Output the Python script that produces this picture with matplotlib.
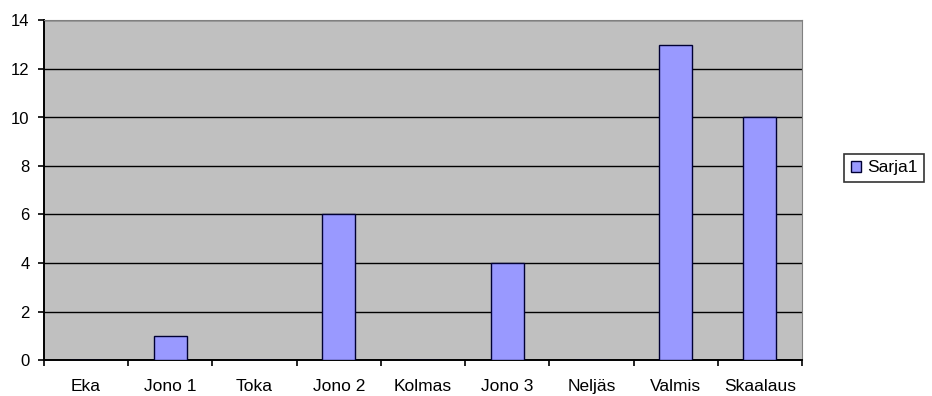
import numpy as np
import matplotlib.pyplot as plt
from matplotlib.patches import Patch

plt.rcParams['font.family'] = ['Liberation Sans', 'DejaVu Sans']

categories = ['Eka', 'Jono 1', 'Toka', 'Jono 2', 'Kolmas', 'Jono 3', 'Neljäs', 'Valmis', 'Skaalaus']
values = [0, 1, 0, 6, 0, 4, 0, 13, 10]
series_name = 'Sarja1'

fig = plt.figure(figsize=(9.32, 3.96), dpi=100)
ax = fig.add_axes([44 / 932, 36 / 396, 758 / 932, 339.5 / 396])
ax.set_facecolor('#C0C0C0')

x = np.arange(len(categories)) + 0.5
ax.bar(x, values, width=0.39, color='#9999FF', edgecolor='#000033', linewidth=1.0, zorder=3)

ax.set_xlim(0, len(categories))
ax.set_ylim(0, 14)
ax.set_yticks(np.arange(0, 15, 2))
ax.yaxis.grid(True, color='black', linewidth=1.0, zorder=1)
ax.set_axisbelow(True)

# ticks between categories, labels centred under each bar
ax.set_xticks(np.arange(len(categories) + 1))
ax.set_xticklabels([])
ax.set_xticks(x, minor=True)
ax.set_xticklabels(categories, minor=True)
ax.tick_params(axis='x', which='minor', length=0, pad=13.5, labelsize=12.5)
ax.tick_params(axis='x', which='major', direction='out', length=4.5, width=1.2)
ax.tick_params(axis='y', direction='out', length=4.5, width=1.2, labelsize=12, pad=6)

for side in ('top', 'right'):
    ax.spines[side].set_color('#808080')
for side in ('left', 'bottom'):
    ax.spines[side].set_color('black')
    ax.spines[side].set_linewidth(1.4)

handle = Patch(facecolor='#9999FF', edgecolor='#000033', linewidth=1.0)
leg = fig.legend([handle], [series_name], loc='center', bbox_to_anchor=(884 / 932, 228 / 396),
                 fontsize=12.5, frameon=True, fancybox=False, handlelength=0.6, handleheight=0.6,
                 handletextpad=0.35, borderpad=0.35, borderaxespad=0)
leg.get_frame().set_edgecolor('black')
leg.get_frame().set_linewidth(1.2)

fig.savefig('out.png', dpi=100)
